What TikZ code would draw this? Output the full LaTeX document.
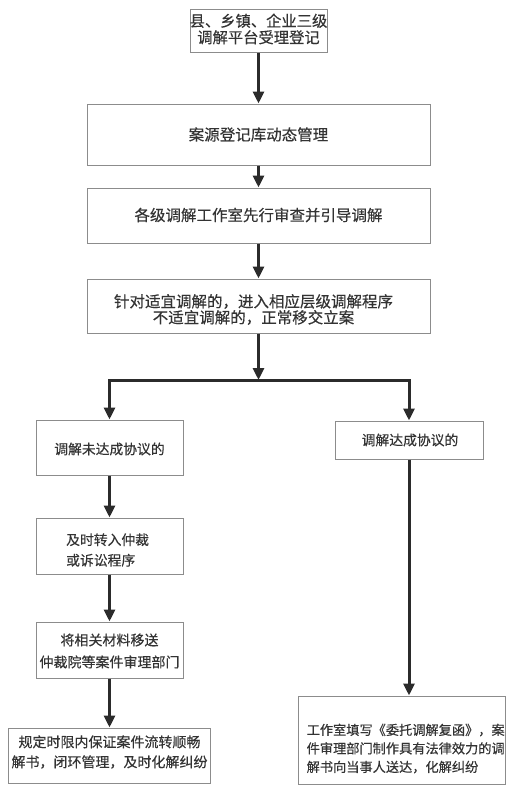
\documentclass[tikz,border=0pt]{standalone}
\usepackage{fontspec}
\setmainfont{Noto Sans CJK SC}[FakeBold=0.4]
\usetikzlibrary{arrows.meta}
\definecolor{boxc}{HTML}{8C8C8C}
\definecolor{arrc}{HTML}{2B2B2B}
\definecolor{txtc}{HTML}{333333}
\tikzset{
  box/.style={draw=boxc, line width=1pt, inner sep=0pt},
  txtbig/.style={inner sep=0pt, text=txtc, align=center, font=\fontsize{15}{16.5}\selectfont},
  txtsm/.style={inner sep=0pt, text=txtc, align=center, font=\fontsize{13.8}{20.5}\selectfont},
  txtr/.style={inner sep=0pt, text=txtc, align=left, anchor=west, font=\fontsize{13.2}{18.5}\selectfont},
  arr/.style={draw=arrc, line width=3pt, -{Triangle[width=11pt,length=12pt]}},
  dbl/.style={draw=arrc, line width=3pt, {Triangle[width=11pt,length=12pt]}-{Triangle[width=11pt,length=12pt]}},
}
\begin{document}
\begin{tikzpicture}[x=1pt,y=-1pt]
\useasboundingbox (0,0) rectangle (525,790);
% boxes
\node[box, minimum width=137pt, minimum height=43pt] (b1) at (258.5,30.5) {};
\node[box, minimum width=343pt, minimum height=61pt] (b2) at (258.5,134.5) {};
\node[box, minimum width=343pt, minimum height=55pt] (b3) at (258.5,215.5) {};
\node[box, minimum width=343pt, minimum height=54pt] (b4) at (258.5,306) {};
\node[box, minimum width=147pt, minimum height=55pt] (l1) at (109.5,447.5) {};
\node[box, minimum width=147pt, minimum height=56pt] (l2) at (109.5,546) {};
\node[box, minimum width=147pt, minimum height=56pt] (l3) at (109.5,650) {};
\node[box, minimum width=202pt, minimum height=55pt] (l4) at (109.5,755.5) {};
\node[box, minimum width=148pt, minimum height=38pt] (r1) at (409,440) {};
\node[box, minimum width=207pt, minimum height=88pt] (r2) at (401.5,740) {};
% texts
\node[txtbig, font=\fontsize{15.3}{16.5}\selectfont] (t1) at (258.5,29) {县、乡镇、企业三级\\调解平台受理登记};
\node[txtbig, font=\fontsize{15.5}{16.5}\selectfont] (t2) at (258.5,134.5) {案源登记库动态管理};
\node[txtbig, font=\fontsize{15.5}{16.5}\selectfont] (t3) at (258.5,215) {各级调解工作室先行审查并引导调解};
\node[txtbig, font=\fontsize{15.5}{16}\selectfont] (t4) at (253.5,309.5) {针对适宜调解的，进入相应层级调解程序\\不适宜调解的，正常移交立案};
\node[txtsm] (tl1) at (109.5,449) {调解未达成协议的};
\node[txtsm, align=left, anchor=west] (tl2) at (66,550) {及时转入仲裁\\或诉讼程序};
\node[txtsm, font=\fontsize{14}{22}\selectfont] (tl3) at (109.5,651) {将相关材料移送\\仲裁院等案件审理部门};
\node[txtsm, font=\fontsize{14}{20}\selectfont] (tl4) at (109.5,752) {规定时限内保证案件流转顺畅\\解书，闭环管理，及时化解纠纷};
\node[txtsm] (tr1) at (410,440) {调解达成协议的};
\node[txtr] (tr2) at (306.5,748.5) {工作室填写《委托调解复函》，案\\件审理部门制作具有法律效力的调\\解书向当事人送达，化解纠纷};
% connectors
\coordinate (j) at (258.5,380);
\draw[arr] (b1.south) -- (b2.north);
\draw[arr] (b2.south) -- (b3.north);
\draw[arr] (b3.south) -- (b4.north);
\draw[arr] (b4.south) -- (j);
\draw[dbl] (l1.north) -- (l1.north |- j) -- (r1.north |- j) -- (r1.north);
\draw[arr] (l1.south) -- (l2.north);
\draw[arr] (l2.south) -- (l3.north);
\draw[arr] (l3.south) -- (l4.north);
\draw[arr] (r1.south) -- (r1.south |- r2.north);
\end{tikzpicture}
\end{document}
